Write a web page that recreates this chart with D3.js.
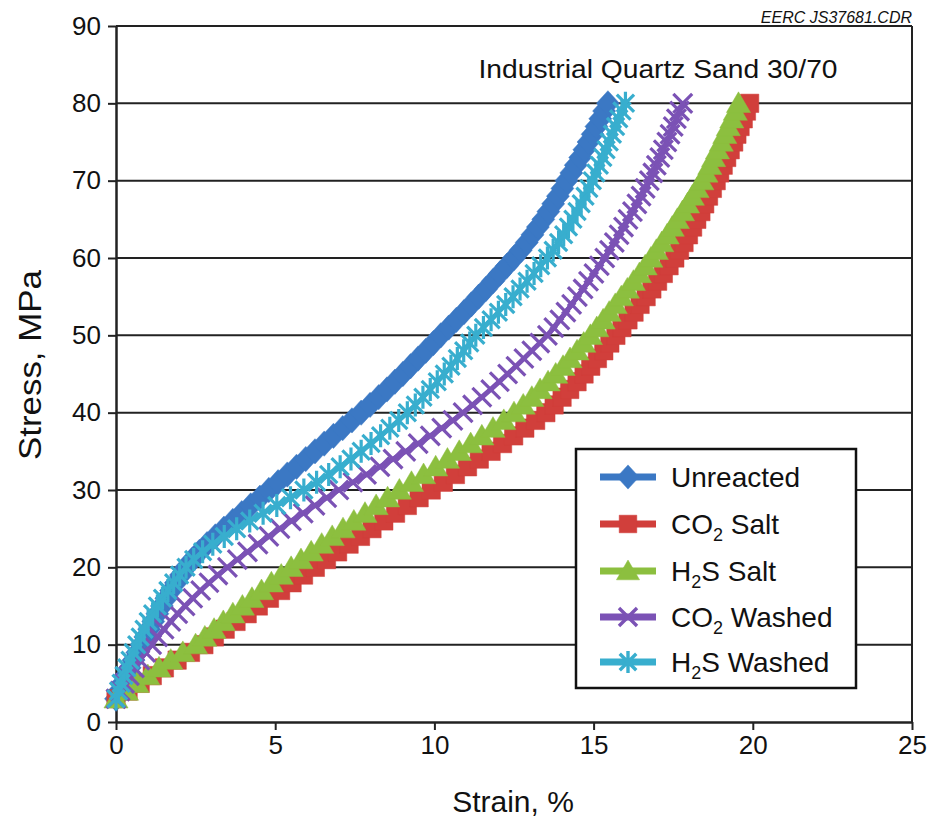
<!DOCTYPE html>
<html><head><meta charset="utf-8">
<script src="https://cdn.jsdelivr.net/npm/d3@7"></script>
<style>
body{margin:0;background:#fff;}
svg text{font-family:"Liberation Sans",Arial,Helvetica,sans-serif;fill:#111;}
</style></head>
<body><svg id="chart" width="935" height="822"></svg>
<script>
// ---- data (stress in MPa, strain in %) ----
const stress = [3,4,5,6,7,8,9,10,11,12,13,14,15,16,17,18,19,20,21,22,23,24,25,26,27,28,29,30,31,32,33,34,35,36,37,38,39,40,41,42,43,44,45,46,47,48,49,50,51,52,53,54,55,56,57,58,59,60,61,62,63,64,65,66,67,68,69,70,71,72,73,74,75,76,77,78,79,80];
const unreacted = [0.00,0.10,0.20,0.31,0.43,0.55,0.67,0.80,
0.92,1.04,1.17,1.30,1.44,1.58,1.73,1.88,2.04,2.20,
2.40,2.62,2.86,3.12,3.39,3.67,3.95,4.23,4.52,4.80,
5.09,5.38,5.67,5.96,6.25,6.54,6.83,7.12,7.41,7.70,
7.98,8.25,8.51,8.76,9.01,9.25,9.49,9.73,9.97,10.20,
10.45,10.69,10.93,11.16,11.39,11.62,11.84,12.06,12.28,12.50,
12.71,12.90,13.08,13.25,13.42,13.58,13.73,13.88,14.02,14.15,
14.30,14.44,14.58,14.71,14.84,14.97,15.09,15.21,15.33,15.45];
const co2Salt = [0.00,0.38,0.76,1.14,1.52,1.92,2.34,2.76,
3.09,3.43,3.77,4.12,4.47,4.82,5.17,5.53,5.89,6.26,
6.61,6.96,7.32,7.68,8.04,8.41,8.78,9.15,9.52,9.90,
10.28,10.66,11.04,11.41,11.78,12.14,12.49,12.84,13.18,13.50,
13.76,14.01,14.25,14.48,14.70,14.91,15.12,15.32,15.51,15.70,
15.89,16.08,16.27,16.46,16.65,16.83,17.01,17.19,17.37,17.55,
17.70,17.84,17.98,18.11,18.24,18.37,18.49,18.61,18.73,18.85,
18.96,19.07,19.18,19.29,19.40,19.50,19.60,19.70,19.80,19.90];
const h2sSalt = [0.00,0.33,0.66,1.00,1.35,1.72,2.10,2.50,
2.79,3.08,3.37,3.67,3.97,4.27,4.57,4.88,5.19,5.50,
5.81,6.13,6.46,6.79,7.13,7.47,7.82,8.17,8.53,8.90,
9.28,9.66,10.04,10.41,10.78,11.14,11.49,11.84,12.18,12.50,
12.79,13.06,13.32,13.57,13.81,14.04,14.26,14.48,14.69,14.90,
15.10,15.30,15.49,15.68,15.87,16.06,16.25,16.44,16.62,16.80,
16.97,17.14,17.31,17.47,17.63,17.79,17.95,18.10,18.25,18.40,
18.53,18.65,18.77,18.89,19.01,19.12,19.23,19.34,19.45,19.55];
const co2Washed = [0.00,0.13,0.27,0.42,0.58,0.75,0.93,1.12,
1.31,1.51,1.72,1.94,2.17,2.41,2.66,2.92,3.20,3.50,
3.81,4.13,4.46,4.80,5.15,5.51,5.88,6.25,6.62,7.00,
7.44,7.87,8.29,8.70,9.10,9.49,9.87,10.23,10.58,10.90,
11.20,11.49,11.77,12.04,12.30,12.56,12.81,13.06,13.31,13.55,
13.75,13.94,14.13,14.31,14.49,14.67,14.84,15.01,15.18,15.35,
15.50,15.65,15.80,15.94,16.08,16.22,16.36,16.49,16.62,16.75,
16.86,16.97,17.08,17.19,17.30,17.40,17.50,17.60,17.70,17.80];
const h2sWashed = [0.00,0.08,0.16,0.25,0.34,0.44,0.54,0.65,
0.76,0.88,1.01,1.15,1.30,1.46,1.63,1.81,2.00,2.20,
2.44,2.72,3.04,3.40,3.79,4.20,4.62,5.05,5.48,5.90,
6.30,6.68,7.04,7.38,7.70,8.01,8.31,8.60,8.88,9.15,
9.40,9.64,9.87,10.09,10.31,10.52,10.72,10.92,11.11,11.30,
11.54,11.78,12.01,12.24,12.47,12.69,12.91,13.13,13.34,13.55,
13.73,13.90,14.06,14.21,14.35,14.48,14.61,14.73,14.85,14.96,
15.07,15.18,15.29,15.39,15.49,15.59,15.69,15.79,15.89,16.00];
const xTicks = [0,5,10,15,20,25];
const yTicks = [0,10,20,30,40,50,60,70,80,90];
const seriesNames = ["Unreacted","CO2 Salt","H2S Salt","CO2 Washed","H2S Washed"];

// ---- styling ----
const colors = ["#3b78c4","#d13f3b","#8cbf3f","#7b52b5","#38aece"];
const markers = ["diamond","square","triangle","times","asterisk"];
const seriesData = [unreacted, co2Salt, h2sSalt, co2Washed, h2sWashed];

const svg = d3.select("#chart");
const L = 116, R = 912, T = 26, B = 722;
const x = d3.scaleLinear().domain([0,25]).range([L,R]);
const y = d3.scaleLinear().domain([0,90]).range([B,T]);

// gridlines
svg.append("g").selectAll("line").data(yTicks.filter(d=>d>0)).join("line")
  .attr("x1",L).attr("x2",R).attr("y1",d=>y(d)).attr("y2",d=>y(d))
  .attr("stroke","#222").attr("stroke-width",2);
// right border
svg.append("line").attr("x1",R).attr("x2",R).attr("y1",T).attr("y2",B)
  .attr("stroke","#222").attr("stroke-width",2);

// axes
const yAxis = svg.append("g").attr("transform",`translate(${L},0)`)
  .call(d3.axisLeft(y).tickValues(yTicks).tickSize(8).tickPadding(7).tickSizeOuter(0));
const xAxis = svg.append("g").attr("transform",`translate(0,${B})`)
  .call(d3.axisBottom(x).tickValues(xTicks).tickSize(8).tickPadding(6).tickSizeOuter(0));
[yAxis,xAxis].forEach(a=>{
  a.select(".domain").attr("stroke","#222").attr("stroke-width",2.5);
  a.selectAll(".tick line").attr("stroke","#222").attr("stroke-width",2);
  a.selectAll(".tick text").attr("font-size",26).attr("fill","#111")
   .style("font-family","'Liberation Sans',Arial,sans-serif");
});

// marker path generator
function markerPath(type, s){
  const h = s/2;
  if(type==="diamond"){ return `M0,${-h*1.1}L${h},0L0,${h*1.1}L${-h},0Z`; }
  if(type==="square"){ const q=h*0.8; return `M${-q},${-q}H${q}V${q}H${-q}Z`; }
  if(type==="triangle"){ return `M0,${-h*1.0}L${h*1.05},${h*0.8}L${-h*1.05},${h*0.8}Z`; }
  if(type==="times"){ const q=h*0.82; return `M${-q},${-q}L${q},${q}M${-q},${q}L${q},${-q}`; }
  if(type==="asterisk"){ const q=h*0.75; return `M${-q},${-q}L${q},${q}M${-q},${q}L${q},${-q}M0,${-h}L0,${h}`; }
}
const filled = t => (t==="diamond"||t==="square"||t==="triangle");

const lineGen = d3.line().x(d=>x(d[0])).y(d=>y(d[1]));
seriesData.forEach((vals,i)=>{
  const pts = vals.map((v,j)=>[v, stress[j]]);
  const g = svg.append("g");
  g.append("path").datum(pts).attr("d",lineGen).attr("fill","none")
    .attr("stroke",colors[i]).attr("stroke-width",5).attr("stroke-linejoin","round");
  g.selectAll("path.m").data(pts).join("path").attr("class","m")
    .attr("transform",d=>`translate(${x(d[0])},${y(d[1])})`)
    .attr("d",markerPath(markers[i],23))
    .attr("fill",filled(markers[i])?colors[i]:"none")
    .attr("stroke",colors[i])
    .attr("stroke-width",filled(markers[i])?0.5:3.2);
});

// texts
svg.append("text").attr("x",912).attr("y",23).attr("text-anchor","end")
  .attr("font-size",16).attr("font-style","italic").attr("fill","#333").text("EERC JS37681.CDR");
svg.append("text").attr("x",658).attr("y",78).attr("text-anchor","middle")
  .attr("font-size",26).attr("textLength",359).attr("lengthAdjust","spacingAndGlyphs")
  .text("Industrial Quartz Sand 30/70");
svg.append("text").attr("x",513).attr("y",812).attr("text-anchor","middle")
  .attr("font-size",30).text("Strain, %");
svg.append("text").attr("transform",`translate(41,365) rotate(-90)`)
  .attr("text-anchor","middle").attr("font-size",31).attr("textLength",190)
  .attr("lengthAdjust","spacingAndGlyphs").text("Stress, MPa");

// legend
const lg = svg.append("g");
lg.append("rect").attr("x",576).attr("y",449).attr("width",280).attr("height",239)
  .attr("fill","#fff").attr("stroke","#111").attr("stroke-width",2.5);
const legY = [477,524,571,617,662];
seriesNames.forEach((name,i)=>{
  const cy = legY[i];
  lg.append("line").attr("x1",600).attr("x2",656).attr("y1",cy).attr("y2",cy)
    .attr("stroke",colors[i]).attr("stroke-width",7);
  lg.append("path").attr("transform",`translate(628,${cy})`).attr("d",markerPath(markers[i],22))
    .attr("fill",filled(markers[i])?colors[i]:"none").attr("stroke",colors[i])
    .attr("stroke-width",filled(markers[i])?0.5:3.4);
  const t = lg.append("text").attr("x",671).attr("y",cy+10).attr("font-size",28);
  const m = name.match(/^(CO|H)2(.*)$/);
  if(m){
    t.append("tspan").text(m[1]);
    t.append("tspan").attr("font-size",18).attr("dy",7).text("2");
    t.append("tspan").attr("dy",-7).text(m[2]);
  } else t.text(name);
});
</script></body></html>
